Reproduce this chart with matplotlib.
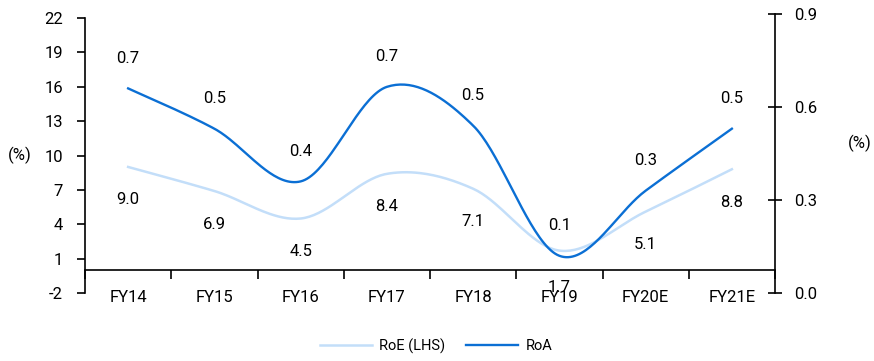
import numpy as np
import matplotlib
matplotlib.use("Agg")
import matplotlib.pyplot as plt
from matplotlib.ticker import FixedLocator, NullFormatter

plt.rcParams['font.family'] = ['Roboto', 'DejaVu Sans']
plt.rcParams['axes.unicode_minus'] = False

# Datos
years = ['FY14', 'FY15', 'FY16', 'FY17', 'FY18', 'FY19', 'FY20E', 'FY21E']
roe = [9.0, 6.9, 4.5, 8.4, 7.1, 1.7, 5.1, 8.8]
roa = [0.66, 0.53, 0.36, 0.665, 0.54, 0.12, 0.33, 0.53]

roe_ticks = [-2, 1, 4, 7, 10, 13, 16, 19, 22]
roa_ticks = [0.0, 0.3, 0.6, 0.9]

c_roe = '#c3def9'
c_roa = '#0b6fd4'
fs = 12


def smooth(x, y, n=40):
    # curva suavizada tipo Catmull-Rom entre puntos consecutivos
    x = np.asarray(x, float)
    y = np.asarray(y, float)
    px = np.concatenate([[x[0]], x, [x[-1]]])
    py = np.concatenate([[y[0]], y, [y[-1]]])
    xs, ys = [], []
    t = np.linspace(0, 1, n)
    for i in range(1, len(px) - 2):
        p0 = np.array([px[i], py[i]])
        p3 = np.array([px[i + 1], py[i + 1]])
        c1 = p0 + (np.array([px[i + 1], py[i + 1]]) - np.array([px[i - 1], py[i - 1]])) / 6
        c2 = p3 - (np.array([px[i + 2], py[i + 2]]) - np.array([px[i], py[i]])) / 6
        b = ((1 - t) ** 3)[:, None] * p0 + (3 * (1 - t) ** 2 * t)[:, None] * c1 \
            + (3 * (1 - t) * t ** 2)[:, None] * c2 + (t ** 3)[:, None] * p3
        xs.extend(b[:, 0])
        ys.extend(b[:, 1])
    return np.array(xs), np.array(ys)


W, H = 874, 361
fig = plt.figure(figsize=(W / 100, H / 100), dpi=100)
ax = fig.add_axes([85 / W, 1 - 293 / H, 690 / W, 275 / H])
ax2 = fig.add_axes([85 / W, 1 - 293 / H, 690 / W, 279 / H], sharex=ax)
ax2.patch.set_visible(False)

x = np.arange(len(years))

# RoE (eje izquierdo)
sx, sy = smooth(x, roe)
ax.plot(sx, sy, color=c_roe, lw=1.8, label='RoE (LHS)')
ax.set_ylim(-2, 22)
ax.set_yticks(roe_ticks)
ax.set_xlim(-0.5, len(years) - 0.5)

# RoA (eje derecho)
sx, sy = smooth(x, roa)
ax2.plot(sx, sy, color=c_roa, lw=1.7, label='RoA')
ax2.set_ylim(0, 0.9)
ax2.set_yticks(roa_ticks)
ax2.set_yticklabels([f'{v:.1f}' for v in roa_ticks])

# Etiquetas de valores
for i in x:
    dy = -37 if roe[i] < 3 else -33
    ax.annotate(f'{roe[i]:.1f}', (i, roe[i]), xytext=(0, dy), textcoords='offset pixels',
                ha='center', va='center', fontsize=fs)
    ax2.annotate(f'{roa[i]:.1f}', (i, roa[i]), xytext=(0, 30), textcoords='offset pixels',
                 ha='center', va='center', fontsize=fs)

# Ejes
for s in ['top', 'right']:
    ax.spines[s].set_visible(False)
ax.spines['bottom'].set_position(('data', 0))
ax.spines['left'].set_linewidth(1.2)
ax.spines['bottom'].set_linewidth(1.2)
ax.xaxis.set_major_locator(FixedLocator(np.arange(-0.5, len(years), 1.0)))
ax.xaxis.set_major_formatter(NullFormatter())
ax.xaxis.set_minor_locator(FixedLocator(x))
ax.set_xticklabels(years, minor=True)
ax.tick_params(axis='x', which='major', direction='out', length=6.5, width=1.2)
ax.tick_params(axis='x', which='minor', length=0, pad=14, labelsize=fs)
ax.tick_params(axis='y', direction='out', length=6, width=1.2, pad=10, labelsize=fs)

for s in ['top', 'left', 'bottom']:
    ax2.spines[s].set_visible(False)
ax2.spines['right'].set_linewidth(1.2)
ax2.tick_params(axis='x', which='both', length=0, labelbottom=False)
ax2.tick_params(axis='y', left=False, labelleft=False, right=True, labelright=True,
                direction='inout', length=10, width=1.2, pad=9, labelsize=fs)

fig.text(20 / W, 1 - 155 / H, '(%)', ha='center', va='center', fontsize=fs)
fig.text(860 / W, 1 - 143 / H, '(%)', ha='center', va='center', fontsize=fs)

fig.legend(loc='center', bbox_to_anchor=(436 / W, 1 - 346 / H), ncol=2, frameon=False,
           fontsize=10.5, handlelength=3.6, handletextpad=0.5, columnspacing=1.4)

plt.savefig('out.png', dpi=100)
